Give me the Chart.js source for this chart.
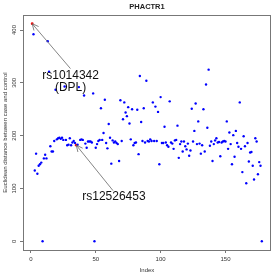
<!DOCTYPE html>
<html>
<head>
<meta charset="utf-8">
<script src="https://cdn.jsdelivr.net/npm/chart.js@4.4.0/dist/chart.umd.min.js"></script>
<style>
  html, body { margin: 0; padding: 0; background: #fff; }
  canvas { display: block; }
</style>
</head>
<body>
<canvas id="chart" width="273" height="273"></canvas>
<script>
// Texts
const chartTitle = 'PHACTR1';
const xTitle = 'Index';
const yTitle = 'Euclidean distance between case and control';

// Tick labels
const xTicks = [0, 50, 100, 150];
const yTicks = [0, 100, 200, 300, 400];

// Distance per SNP index (1..178)
const distances = [
  412, 392, 134, 166, 128, 143, 146, 149, 0, 157,
  164, 157, 379, 321, 180, 170, 170, 190, 287, 193,
  195, 196, 194, 196, 192, 293, 192, 182, 183, 195,
  182, 187, 190, 186, 182, 183, 292, 192, 193, 192,
  276, 185, 177, 189, 189, 189, 187, 280, 0, 177,
  184, 190, 192, 252, 192, 205, 268, 186, 176, 222,
  196, 147, 191, 187, 189, 186, 184, 152, 267, 190,
  231, 263, 244, 237, 254, 223, 193, 250, 182, 186,
  187, 249, 165, 313, 226, 190, 252, 187, 304, 190,
  189, 193, 190, 263, 190, 255, 190, 245, 146, 273,
  186, 186, 217, 187, 182, 179, 265, 187, 185, 175,
  191, 192, 219, 158, 184, 189, 170, 189, 180, 174,
  185, 162, 172, 251, 189, 209, 261, 184, 227, 185,
  166, 182, 250, 170, 297, 215, 325, 181, 189, 152,
  184, 191, 195, 187, 188, 161, 187, 189, 190, 189,
  227, 175, 206, 184, 146, 201, 160, 209, 186, 179,
  263, 175, 131, 199, 180, 110, 186, 151, 168, 169,
  143, 117, 195, 189, 127, 150, 143, 0
];

// Highlighted SNPs (1-based index) and their labels
const markedIndex = [1, 35];
const markedLabels = [['rs1014342', '(DPL)'], ['rs12526453']];

// R-style padded axis ranges
const n = distances.length;
const xPad = (n - 1) * 0.04;
const yMax = Math.max(...distances);
const yPad = yMax * 0.04;

const allPoints = distances.map((v, i) => ({ x: i + 1, y: v }));
const bluePoints = allPoints.filter(p => !markedIndex.includes(p.x));
const redPoints = allPoints.filter(p => markedIndex.includes(p.x));

// where the label text sits (data coords) and where its arrow starts
const labelPlacement = [
  { text: [30.6, 314], from: [30.5, 327] },
  { text: [64, 85], from: [63.3, 96] }
];

const FONT = '"Liberation Sans", Arial, sans-serif';

function drawArrow(ctx, x1, y1, x2, y2) {
  const a = Math.atan2(y2 - y1, x2 - x1);
  const h = 7, w = Math.PI / 7;
  ctx.beginPath();
  ctx.moveTo(x1, y1);
  ctx.lineTo(x2, y2);
  ctx.moveTo(x2 - h * Math.cos(a - w), y2 - h * Math.sin(a - w));
  ctx.lineTo(x2, y2);
  ctx.lineTo(x2 - h * Math.cos(a + w), y2 - h * Math.sin(a + w));
  ctx.stroke();
}

const decorPlugin = {
  id: 'decor',
  afterDraw(chart) {
    const { ctx, chartArea: ca, scales: { x, y } } = chart;
    ctx.save();
    // box
    ctx.strokeStyle = '#777';
    ctx.lineWidth = 1;
    ctx.strokeRect(ca.left + 0.5, ca.top + 0.5, ca.right - ca.left - 1, ca.bottom - ca.top);

    ctx.fillStyle = '#222';
    // title
    ctx.font = 'bold 7.5px ' + FONT;
    ctx.textAlign = 'center';
    ctx.textBaseline = 'middle';
    ctx.fillText(chartTitle, (ca.left + ca.right) / 2, 7);

    // x tick labels
    ctx.fillStyle = '#333';
    ctx.font = '6px ' + FONT;
    xTicks.forEach(t => ctx.fillText(String(t), x.getPixelForValue(t), 259));
    ctx.fillText(xTitle, (ca.left + ca.right) / 2, 270);

    // y tick labels, rotated
    yTicks.forEach(t => {
      ctx.save();
      ctx.translate(14, y.getPixelForValue(t));
      ctx.rotate(-Math.PI / 2);
      ctx.fillText(String(t), 0, 0);
      ctx.restore();
    });
    ctx.save();
    ctx.translate(5, (ca.top + ca.bottom) / 2);
    ctx.rotate(-Math.PI / 2);
    ctx.fillText(yTitle, 0, 0);
    ctx.restore();

    // SNP annotations
    ctx.strokeStyle = '#666';
    ctx.lineWidth = 0.8;
    markedIndex.forEach((idx, k) => {
      const pl = labelPlacement[k];
      const px = x.getPixelForValue(idx);
      const py = y.getPixelForValue(distances[idx - 1]);
      drawArrow(ctx, x.getPixelForValue(pl.from[0]), y.getPixelForValue(pl.from[1]), px, py);
    });
    ctx.fillStyle = '#111';
    ctx.font = '12px ' + FONT;
    markedIndex.forEach((idx, k) => {
      const pl = labelPlacement[k];
      const tx = x.getPixelForValue(pl.text[0]);
      const ty = y.getPixelForValue(pl.text[1]);
      const lines = markedLabels[k];
      lines.forEach((s, j) => ctx.fillText(s, tx, ty + j * 12.5));
    });
    ctx.restore();
  }
};

new Chart(document.getElementById('chart').getContext('2d'), {
  type: 'scatter',
  data: {
    datasets: [
      { data: bluePoints, backgroundColor: '#0000ff', borderWidth: 0, pointRadius: 1.2, pointHoverRadius: 1.2 },
      { data: redPoints, backgroundColor: '#ff0000', borderWidth: 0, pointRadius: 1.4, pointHoverRadius: 1.4 }
    ]
  },
  options: {
    responsive: false,
    animation: false,
    events: [],
    layout: { padding: { top: 15, right: 2, left: 0, bottom: 0 } },
    plugins: { legend: { display: false }, tooltip: { enabled: false }, title: { display: false } },
    scales: {
      x: {
        type: 'linear',
        min: 1 - xPad,
        max: n + xPad,
        afterBuildTicks: s => { s.ticks = xTicks.map(v => ({ value: v })); },
        afterFit: s => { s.height = 23; },
        ticks: { display: false },
        border: { display: false },
        grid: { drawOnChartArea: false, drawTicks: true, tickLength: 3, color: '#777' }
      },
      y: {
        type: 'linear',
        min: -yPad,
        max: yMax + yPad,
        afterBuildTicks: s => { s.ticks = yTicks.map(v => ({ value: v })); },
        afterFit: s => { s.width = 23; },
        ticks: { display: false },
        border: { display: false },
        grid: { drawOnChartArea: false, drawTicks: true, tickLength: 3, color: '#777' }
      }
    }
  },
  plugins: [decorPlugin]
});
</script>
</body>
</html>
